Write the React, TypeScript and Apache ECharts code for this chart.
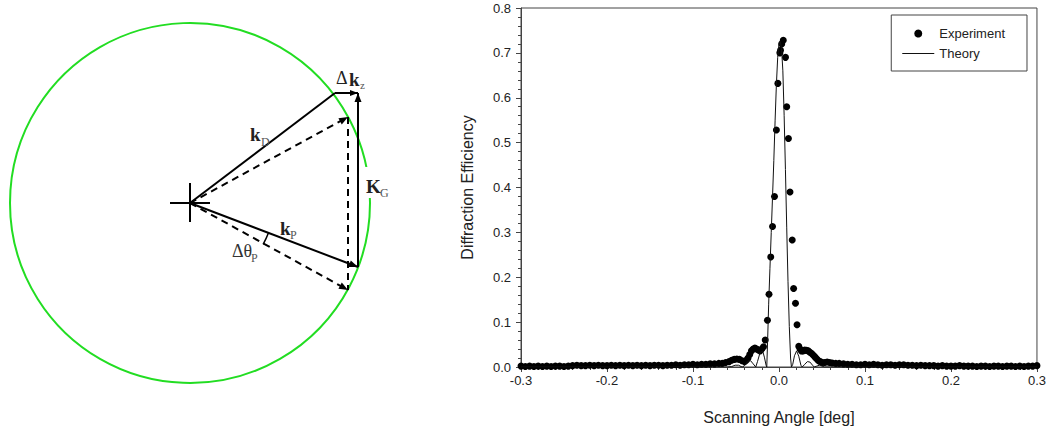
import React, { useEffect, useRef } from "react";
import * as echarts from "echarts";

// ---------- chart data ----------
const experimentX = [
  -0.300, -0.295, -0.290, -0.285, -0.280, -0.275, -0.270, -0.265, -0.260, -0.255,
  -0.250, -0.245, -0.240, -0.235, -0.230, -0.225, -0.220, -0.215, -0.210, -0.205,
  -0.200, -0.195, -0.190, -0.185, -0.180, -0.175, -0.170, -0.165, -0.160, -0.155,
  -0.150, -0.145, -0.140, -0.135, -0.130, -0.125, -0.120, -0.115, -0.110, -0.105,
  -0.100, -0.095, -0.090, -0.085, -0.080, -0.075, -0.070, -0.066, -0.062, -0.058,
  -0.055, -0.052, -0.049, -0.046, -0.043, -0.040, -0.038, -0.036, -0.034, -0.032,
  -0.030, -0.028, -0.026, -0.024, -0.022, -0.020, -0.018, -0.016, -0.0134, -0.0116,
  -0.0096, -0.0075, -0.0052, -0.003, -0.0013, 0.001, 0.0018, 0.0032, 0.005, 0.0076,
  0.009, 0.011, 0.0128, 0.0154, 0.017, 0.0192, 0.021, 0.023, 0.0245, 0.026,
  0.028, 0.030, 0.032, 0.034, 0.036, 0.038, 0.040, 0.042, 0.044, 0.046,
  0.048, 0.050, 0.053, 0.056, 0.059, 0.062, 0.066, 0.070, 0.075, 0.080,
  0.085, 0.090, 0.095, 0.100, 0.105, 0.110, 0.115, 0.120, 0.125, 0.130,
  0.135, 0.140, 0.145, 0.150, 0.155, 0.160, 0.165, 0.170, 0.175, 0.180,
  0.185, 0.190, 0.195, 0.200, 0.205, 0.210, 0.215, 0.220, 0.225, 0.230,
  0.235, 0.240, 0.245, 0.250, 0.255, 0.260, 0.265, 0.270, 0.275, 0.280,
  0.285, 0.290, 0.295, 0.300,
];
const experimentY = [
  0.002, 0.001, 0.002, 0.001, 0.002, 0.001, 0.002, 0.001, 0.002, 0.002,
  0.001, 0.002, 0.003, 0.004, 0.003, 0.003, 0.004, 0.003, 0.004, 0.003,
  0.003, 0.004, 0.003, 0.004, 0.003, 0.004, 0.003, 0.004, 0.003, 0.004,
  0.003, 0.004, 0.004, 0.003, 0.004, 0.004, 0.005, 0.004, 0.005, 0.005,
  0.006, 0.005, 0.006, 0.006, 0.007, 0.007, 0.008, 0.008, 0.010, 0.012,
  0.015, 0.017, 0.018, 0.017, 0.014, 0.012, 0.015, 0.020, 0.028, 0.036,
  0.040, 0.042, 0.040, 0.038, 0.036, 0.040, 0.045, 0.060, 0.104, 0.162,
  0.245, 0.313, 0.380, 0.528, 0.632, 0.700, 0.706, 0.720, 0.728, 0.690,
  0.580, 0.509, 0.390, 0.283, 0.175, 0.142, 0.094, 0.046, 0.040, 0.036,
  0.036, 0.038, 0.037, 0.036, 0.033, 0.030, 0.026, 0.022, 0.018, 0.014,
  0.012, 0.010, 0.010, 0.011, 0.010, 0.009, 0.008, 0.008, 0.007, 0.006,
  0.006, 0.005, 0.005, 0.006, 0.005, 0.006, 0.005, 0.004, 0.005, 0.005,
  0.004, 0.005, 0.005, 0.004, 0.004, 0.003, 0.004, 0.003, 0.003, 0.003,
  0.002, 0.003, 0.002, 0.002, 0.002, 0.003, 0.002, 0.002, 0.002, 0.001,
  0.002, 0.002, 0.001, 0.002, 0.002, 0.001, 0.002, 0.002, 0.001, 0.002,
  0.001, 0.002, 0.002, 0.003,
];
const theoryX = [
  -0.300, -0.060, -0.055, -0.051, -0.047, -0.044, -0.042, -0.039, -0.036, -0.033,
  -0.030, -0.027, -0.025, -0.022, -0.019, -0.017, -0.015, -0.0142, -0.0132, -0.012,
  -0.0105, -0.009, -0.0075, -0.006, -0.0045, -0.003, -0.0015, 0.000, 0.0015, 0.003,
  0.0045, 0.006, 0.0075, 0.009, 0.0105, 0.012, 0.0135, 0.0145, 0.016, 0.018,
  0.0205, 0.023, 0.0255, 0.027, 0.030, 0.033, 0.036, 0.039, 0.041, 0.044,
  0.047, 0.050, 0.053, 0.300,
];
const theoryY = [
  0, 0, 0.001, 0.004, 0.004, 0.001, 0, 0.006, 0.013, 0.014,
  0.007, 0, 0.012, 0.032, 0.036, 0.022, 0.004, 0, 0.06, 0.14,
  0.22, 0.30, 0.38, 0.46, 0.55, 0.63, 0.69, 0.72, 0.725, 0.71,
  0.66, 0.56, 0.44, 0.31, 0.19, 0.09, 0.02, 0, 0.006, 0.025,
  0.036, 0.024, 0.004, 0, 0.006, 0.012, 0.011, 0.004, 0, 0.002,
  0.004, 0.002, 0, 0,
];
const seriesNames = ["Experiment", "Theory"];
const xTitle = "Scanning Angle [deg]";
const yTitle = "Diffraction Efficiency";

// ---------- left diagram geometry ----------
const C = [190, 203];
const R = 180;
const D = [335, 93];
const Z = [358, 93];
const P = [358, 267];
const D2 = [348, 117];
const P2 = [348, 290];

function arrowHead(from: number[], to: number[], len = 9, half = 3.5) {
  const dx = to[0] - from[0];
  const dy = to[1] - from[1];
  const l = Math.sqrt(dx * dx + dy * dy);
  const ux = dx / l;
  const uy = dy / l;
  const bx = to[0] - ux * len;
  const by = to[1] - uy * len;
  return {
    type: "polygon",
    silent: true,
    z: 20,
    shape: {
      points: [
        [to[0], to[1]],
        [bx - uy * half, by + ux * half],
        [bx + uy * half, by - ux * half],
      ],
    },
    style: { fill: "#000" },
  };
}

function seg(a: number[], b: number[], dashed = false) {
  return {
    type: "line",
    silent: true,
    z: 15,
    shape: { x1: a[0], y1: a[1], x2: b[0], y2: b[1] },
    style: {
      stroke: "#000",
      lineWidth: 2,
      lineDash: dashed ? [7, 5] : null,
    },
  };
}

function txt(x: number, y: number, text: string, size: number, bold = false, color = "#222") {
  return {
    type: "text",
    silent: true,
    z: 30,
    x,
    y,
    style: {
      text,
      fontFamily: "Liberation Serif",
      fontSize: size,
      fontWeight: bold ? "bold" : "normal",
      fill: color,
      verticalAlign: "middle",
      align: "left",
    },
  };
}

export default function App() {
  const ref = useRef<HTMLDivElement>(null);
  useEffect(() => {
    if (!ref.current) return;
    const chart = echarts.init(ref.current, null, { renderer: "svg" });
    const expData = experimentX.map((x, i) => [x, experimentY[i]]);
    const theoryData = theoryX.map((x, i) => [x, theoryY[i]]);
    const deg = Math.PI / 180;
    const graphics: any[] = [
      {
        type: "circle",
        silent: true,
        z: 10,
        shape: { cx: C[0], cy: C[1], r: R },
        style: { fill: "none", stroke: "#22dd22", lineWidth: 2 },
      },
      {
        type: "rect",
        silent: true,
        z: 12,
        shape: { x: 363, y: 167, width: 14, height: 31 },
        style: { fill: "#fff" },
      },
      seg([C[0] - 20, C[1]], [C[0] + 20, C[1]]),
      seg([C[0], C[1] - 20], [C[0], C[1] + 19]),
      seg(C, D),
      seg(D, Z),
      seg(P, Z),
      seg(C, P),
      seg(C, D2, true),
      seg(C, P2, true),
      seg(D2, P2, true),
      arrowHead(D, Z, 8, 3),
      arrowHead(P, Z, 9, 3.5),
      arrowHead(C, P, 9, 3.5),
      arrowHead(C, D2, 9, 3.5),
      arrowHead(C, P2, 9, 3.5),
      {
        type: "arc",
        silent: true,
        z: 15,
        shape: { cx: C[0], cy: C[1], r: 84, startAngle: 21 * deg, endAngle: 29.5 * deg, clockwise: true },
        style: { stroke: "#000", lineWidth: 1.5, fill: "none" },
      },
      txt(336, 78, "Δ", 18, false, "#222"),
      txt(349, 79, "k", 19, true, "#222"),
      txt(360, 85, "z", 11, false, "#555"),
      txt(250, 134, "k", 19, true, "#222"),
      txt(261, 142, "D", 12, false, "#555"),
      txt(366, 186, "K", 19, true, "#222"),
      txt(380, 193, "G", 12, false, "#555"),
      txt(280, 228, "k", 19, true, "#222"),
      txt(290, 235, "P", 12, false, "#555"),
      txt(232, 251, "Δθ", 18, false, "#333"),
      txt(251, 258, "P", 12, false, "#555"),
    ];
    chart.setOption({
      animation: false,
      backgroundColor: "#fff",
      grid: {
        left: 521,
        right: 12,
        top: 8,
        bottom: 68,
        show: true,
        borderColor: "#444",
        borderWidth: 1,
      },
      legend: {
        orient: "vertical",
        right: 22,
        top: 15,
        data: [
          { name: seriesNames[0], icon: "circle" },
          { name: seriesNames[1], icon: "path://M0,0 L32,0 L32,1 L0,1 Z", symbolKeepAspect: true },
        ],
        itemWidth: 32,
        itemHeight: 8,
        itemGap: 7,
        borderColor: "#444",
        borderWidth: 1,
        borderRadius: 0,
        padding: [12, 22, 11, 11],
        textStyle: { fontFamily: "Liberation Sans", fontSize: 13, color: "#222" },
      },
      xAxis: {
        type: "value",
        min: -0.3,
        max: 0.3,
        interval: 0.1,
        name: xTitle,
        nameLocation: "middle",
        nameGap: 42,
        nameTextStyle: { fontFamily: "Liberation Sans", fontSize: 16, color: "#222" },
        axisLine: { show: true, onZero: false, lineStyle: { color: "#444", width: 1 } },
        axisTick: { show: true, inside: false, length: 5, lineStyle: { color: "#444" } },
        minorTick: { show: true, splitNumber: 5, length: 3, lineStyle: { color: "#444" } },
        splitLine: { show: false },
        axisLabel: {
          margin: 7,
          fontFamily: "Liberation Sans",
          fontSize: 13,
          color: "#222",
          formatter: (v: number) => v.toFixed(1),
        },
      },
      yAxis: {
        type: "value",
        min: 0,
        max: 0.8,
        interval: 0.1,
        name: yTitle,
        nameLocation: "middle",
        nameGap: 46,
        nameTextStyle: { fontFamily: "Liberation Sans", fontSize: 16, color: "#222" },
        axisLine: { show: true, onZero: false, lineStyle: { color: "#444", width: 1 } },
        axisTick: { show: true, inside: false, length: 5, lineStyle: { color: "#444" } },
        minorTick: { show: true, splitNumber: 5, length: 3, lineStyle: { color: "#444" } },
        splitLine: { show: false },
        axisLabel: {
          margin: 10,
          fontFamily: "Liberation Sans",
          fontSize: 13,
          color: "#222",
          formatter: (v: number) => v.toFixed(1),
        },
      },
      series: [
        {
          name: seriesNames[0],
          type: "scatter",
          data: expData,
          symbol: "circle",
          symbolSize: 7,
          itemStyle: { color: "#000", opacity: 1 },
          z: 3,
        },
        {
          name: seriesNames[1],
          type: "line",
          data: theoryData,
          symbol: "none",
          showSymbol: false,
          lineStyle: { color: "#111", width: 1 },
          itemStyle: { color: "#111" },
          z: 4,
        },
      ],
      graphic: graphics,
    });
    return () => chart.dispose();
  }, []);
  return (
    <div
      ref={ref}
      style={{ position: "absolute", left: 0, top: 0, width: 1049, height: 435, background: "#fff" }}
    />
  );
}
